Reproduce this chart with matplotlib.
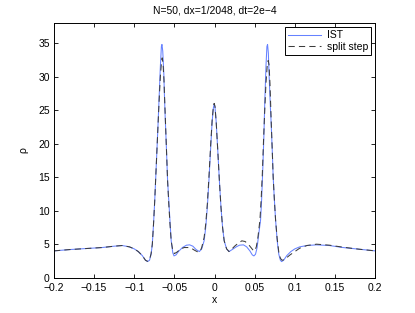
import matplotlib
matplotlib.use('Agg')
import matplotlib.pyplot as plt

plt.rcParams['font.family'] = ['Liberation Sans', 'DejaVu Sans']

# IST solution
x_ist = [-0.200, -0.180, -0.160, -0.140, -0.125, -0.115, -0.106, -0.100, -0.095, -0.090,
         -0.086, -0.0835, -0.081, -0.079, -0.0775, -0.076, -0.0745, -0.0725, -0.0705, -0.069,
         -0.0675, -0.0662, -0.0655, -0.0645, -0.0632, -0.0625, -0.0615, -0.0600, -0.0585, -0.0570,
         -0.0556, -0.054, -0.052, -0.0505, -0.048, -0.045, -0.040, -0.035, -0.031, -0.027,
         -0.023, -0.019, -0.016, -0.013, -0.011, -0.009, -0.007, -0.005, -0.003, -0.0015,
         -0.0005, 0.0005, 0.002, 0.004, 0.006, 0.008, 0.010, 0.012, 0.015, 0.018,
         0.022, 0.027, 0.031, 0.036, 0.040, 0.044, 0.047, 0.049, 0.051, 0.053,
         0.055, 0.0573, 0.0586, 0.060, 0.0614, 0.0625, 0.064, 0.0652, 0.066, 0.067,
         0.068, 0.0695, 0.0705, 0.072, 0.073, 0.0745, 0.076, 0.078, 0.080, 0.082,
         0.0835, 0.086, 0.090, 0.095, 0.100, 0.106, 0.115, 0.127, 0.143, 0.160,
         0.180, 0.200]
rho_ist = [4.0, 4.2, 4.35, 4.5, 4.7, 4.8, 4.6, 4.3, 3.9, 3.3,
           2.6, 2.4, 2.6, 3.5, 5.0, 8.0, 11.5, 17.0, 22.5, 27.0,
           31.5, 34.5, 34.8, 33.8, 30.5, 27.5, 24.0, 19.5, 14.5, 11.5,
           8.6, 5.5, 3.7, 3.25, 3.4, 3.9, 4.5, 4.85, 4.9, 4.7,
           4.2, 3.9, 4.3, 5.5, 7.5, 10.5, 14.5, 19.0, 23.3, 25.3,
           25.9, 25.5, 23.3, 19.0, 14.5, 10.5, 7.5, 5.5, 4.3, 3.9,
           4.2, 4.6, 4.85, 4.9, 4.6, 4.0, 3.4, 3.25, 3.5, 4.5,
           6.5, 8.6, 11.6, 16.0, 21.0, 26.0, 31.5, 34.5, 34.8, 33.5,
           30.0, 25.5, 23.0, 18.5, 15.0, 11.6, 8.6, 5.5, 3.5, 2.6,
           2.4, 2.6, 3.3, 3.9, 4.3, 4.6, 4.8, 4.9, 4.8, 4.5,
           4.25, 4.0]

# split step solution
x_ss = [-0.200, -0.180, -0.160, -0.140, -0.125, -0.115, -0.106, -0.100, -0.095, -0.090,
        -0.086, -0.0835, -0.081, -0.079, -0.0775, -0.076, -0.0745, -0.0725, -0.0705, -0.069,
        -0.0675, -0.066, -0.0652, -0.0642, -0.063, -0.0615, -0.060, -0.0585, -0.057, -0.0555,
        -0.054, -0.052, -0.050, -0.047, -0.043, -0.038, -0.033, -0.029, -0.025, -0.021,
        -0.018, -0.016, -0.013, -0.011, -0.009, -0.007, -0.005, -0.003, -0.0015, -0.0005,
        0.0005, 0.002, 0.004, 0.006, 0.008, 0.010, 0.012, 0.015, 0.018, 0.021,
        0.025, 0.030, 0.034, 0.038, 0.042, 0.046, 0.048, 0.050, 0.052, 0.054,
        0.0565, 0.058, 0.0595, 0.061, 0.0625, 0.064, 0.0655, 0.0668, 0.0678, 0.069,
        0.0705, 0.072, 0.073, 0.0745, 0.076, 0.078, 0.080, 0.082, 0.084, 0.087,
        0.090, 0.094, 0.100, 0.106, 0.115, 0.127, 0.143, 0.160, 0.180, 0.200]
rho_ss = [4.0, 4.2, 4.35, 4.5, 4.7, 4.8, 4.6, 4.3, 3.9, 3.3,
          2.6, 2.45, 2.7, 3.6, 5.0, 8.0, 11.5, 17.0, 22.5, 26.5,
          30.0, 32.3, 32.8, 32.0, 29.5, 24.5, 19.5, 14.5, 11.0, 8.0,
          5.5, 4.0, 3.6, 3.8, 4.2, 4.5, 4.5, 4.4, 4.1, 3.85,
          3.9, 4.5, 6.0, 8.0, 11.0, 15.0, 19.5, 23.5, 25.5, 26.0,
          25.6, 23.3, 19.0, 14.5, 10.5, 7.5, 5.5, 4.3, 3.9, 4.2,
          4.7, 5.2, 5.5, 5.4, 5.0, 4.4, 4.1, 4.0, 4.6, 6.0,
          8.6, 11.6, 15.5, 20.5, 25.0, 29.0, 31.5, 32.4, 31.8, 29.0,
          23.5, 18.5, 15.0, 11.6, 8.6, 5.8, 3.8, 2.9, 2.6, 2.7,
          3.0, 3.4, 3.9, 4.4, 4.8, 5.0, 4.85, 4.55, 4.25, 4.0]

xticks = [-0.2, -0.15, -0.1, -0.05, 0, 0.05, 0.1, 0.15, 0.2]
xtick_labels = ['\u22120.2', '\u22120.15', '\u22120.1', '\u22120.05', '0', '0.05', '0.1', '0.15', '0.2']
yticks = [0, 5, 10, 15, 20, 25, 30, 35]

fig = plt.figure(figsize=(4.15, 3.13), dpi=100)
ax = fig.add_axes([0.130, 0.1128, 0.774, 0.8137])

ax.plot(x_ist, rho_ist, color='#6682ff', lw=0.75, label='IST')
ax.plot(x_ss, rho_ss, color='#3c3c3c', lw=0.75, ls=(0, (6, 4)), label='split step')

ax.set_xlim(-0.2, 0.2)
ax.set_ylim(0, 38)
ax.set_xticks(xticks)
ax.set_xticklabels(xtick_labels)
ax.set_yticks(yticks)
ax.tick_params(direction='in', top=True, right=True, labelsize=7.5, length=3, width=0.6)
ax.tick_params(axis='x', pad=4)
ax.tick_params(axis='y', pad=3)
for s in ax.spines.values():
    s.set_linewidth(0.7)

ax.set_title('N=50, dx=1/2048, dt=2e\u22124', fontsize=7.5, pad=7)
ax.set_xlabel('x', fontsize=7.5, labelpad=1)
ax.set_ylabel('\u03c1', fontsize=7.5, labelpad=7)

leg = ax.legend(loc='upper right', fontsize=7.5, fancybox=False, framealpha=1,
                edgecolor='black', handlelength=3.2, borderaxespad=0.4,
                borderpad=0.3, labelspacing=0.15, handletextpad=0.5)
leg.get_frame().set_linewidth(0.7)

fig.savefig('out.png', dpi=100)
